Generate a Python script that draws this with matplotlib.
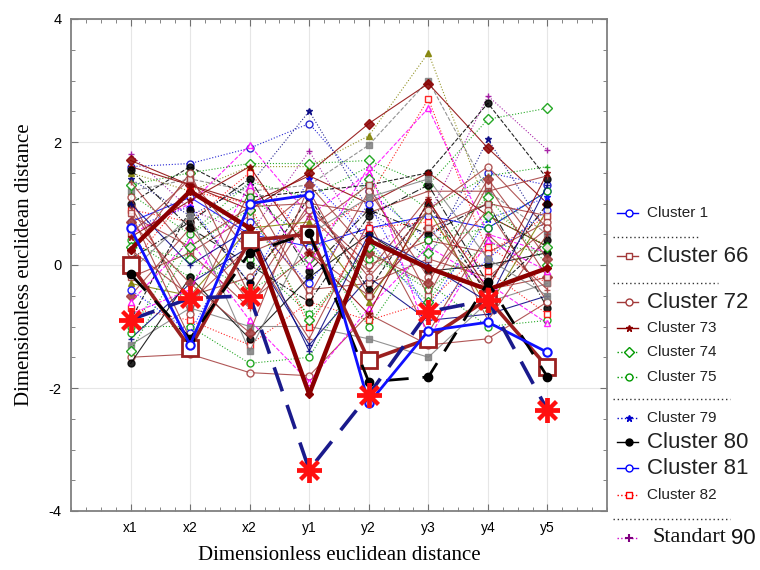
import matplotlib
matplotlib.use("Agg")
import matplotlib.pyplot as plt
from matplotlib.lines import Line2D
from matplotlib.ticker import MultipleLocator

plt.rcParams["axes.unicode_minus"] = False

categories = ["x1", "x2", "x2", "y1", "y2", "y3", "y4", "y5"]

# background cluster profiles
bg01 = [1.8, 0.9, 0.5, 1.85, 0.3, 0.8, 2.75, 1.87]
bg02 = [1.6, 1.65, 1.9, 2.3, 1.2, 0.4, 1.5, 1.3]
bg03 = [1.4, 0.8, 1.3, 2.5, 0.9, 0.1, 2.05, 0.5]
bg04 = [1.5, 1.2, 1.6, 1.6, 2.1, 3.45, 0.9, 0.3]
bg05 = [1.2, 1.4, 1.2, 1.3, 1.95, 3.0, 1.2, 0.5]
bg06 = [0.9, 0.7, 1.5, 0.4, 1.1, 2.7, 0.2, 0.8]
bg07 = [0.5, 1.0, 1.95, 0.8, 1.5, 2.55, 0.5, 0.2]
bg08 = [1.7, 1.3, 0.9, 1.5, 2.3, 2.95, 1.9, 1.0]
bg09 = [1.3, 1.5, 1.65, 1.65, 1.7, 1.3, 2.37, 2.55]
bg10 = [1.0, 1.6, 1.1, 1.2, 1.3, 1.5, 2.63, 1.4]
bg11 = [1.15, 0.5, 1.35, 1.1, 1.6, 0.9, 1.45, 1.6]
bg12 = [0.8, 0.3, 0.95, 1.0, 0.85, 1.2, 1.2, 1.45]
bg13 = [0.7, 1.1, 0.5, 0.3, 0.6, 0.8, 0.6, 1.2]
bg14 = [0.25, -0.5, -0.2, 0.9, 0.0, 0.4, 0.2, 0.7]
bg15 = [-0.2, 0.2, 0.8, -0.4, -0.3, 0.1, -0.2, 0.6]
bg16 = [0.4, -0.2, 0.1, -0.8, 0.2, -0.4, 0.35, 0.2]
bg17 = [-0.5, 0.6, -0.6, 0.2, -0.5, 0.6, -0.4, -0.2]
bg18 = [-0.7, -0.9, -1.3, -0.6, -0.9, -0.6, 0.3, -0.3]
bg19 = [-1.2, -0.3, 0.3, -1.3, -0.2, -0.9, -0.8, -0.5]
bg20 = [-1.0, -1.0, -1.6, -1.5, 0.1, -0.3, -1.0, -0.9]
bg21 = [-1.3, -0.7, -1.0, -1.0, -1.2, -1.5, -0.6, -0.3]
bg22 = [-1.5, -1.45, -1.75, -1.8, -0.8, -1.3, -1.2, -0.6]
bg23 = [-1.6, -0.2, -1.2, -0.2, 0.5, -0.1, 0.0, 0.2]
bg24 = [-0.6, 0.4, -0.9, -1.9, -0.7, 0.3, -0.3, -0.95]
bg25 = [0.1, 0.7, 1.4, -0.1, 0.9, 0.5, 1.0, -0.7]
bg26 = [1.6, 1.3, 1.0, 1.45, 1.0, 1.5, 0.8, 0.3]
bg27 = [0.6, 0.95, -0.3, 1.4, 0.4, -0.7, 0.75, 1.1]
bg28 = [-0.3, -0.5, 0.6, 0.7, -0.6, 0.9, -0.7, 0.9]
bg29 = [0.95, -0.6, 0.3, -1.2, 0.7, -1.1, 0.5, -0.4]
bg30 = [0.3, 0.1, -0.4, 0.1, 1.4, 0.2, 1.1, 0.0]
bg31 = [1.1, -0.8, 1.2, -0.5, 1.2, -0.2, 0.9, -0.6]
bg32 = [-0.9, 0.9, -0.3, 1.1, -0.4, 1.0, -0.5, 0.4]
bg33 = [0.5, 1.4, 0.2, 0.6, 1.3, -0.5, 1.3, -0.2]
bg34 = [-0.4, -1.1, 0.7, -0.3, 1.0, -0.8, 0.1, 0.9]
bg35 = [1.35, 0.2, -0.7, 0.8, -0.1, 1.1, -0.9, 0.5]
bg36 = [0.0, 1.2, 1.0, -1.0, 0.6, 0.7, -0.1, -0.8]
bg37 = [-1.1, 0.5, 1.1, 0.4, -1.0, 0.4, 0.6, 1.2]
bg38 = [0.7, -0.3, -1.1, 1.3, 0.2, -0.3, 1.4, 0.1]
bg39 = [1.55, 0.6, 0.0, -0.6, 0.8, 1.3, -0.3, 1.0]
bg40 = [-0.8, -0.4, 1.3, 0.0, 1.6, -1.2, 0.4, -0.1]
bg41 = [0.2, 1.5, -0.5, 1.0, -0.2, 0.9, 1.6, 0.6]
bg42 = [1.0, 0.0, 0.6, -1.4, 0.5, 0.0, -0.6, 1.3]
bg43 = [-0.1, 0.8, -1.4, 0.5, 1.1, 1.4, 0.1, -0.5]
bg44 = [0.85, -1.2, 0.4, 1.2, -0.5, 0.6, 1.0, 0.8]
bg45 = [-1.4, 0.3, 0.9, -0.9, 0.3, -0.6, 0.8, 0.3]
bg46 = [0.45, 1.05, 1.6, 0.2, -0.8, 1.05, -0.4, 1.5]

# highlighted profiles
cluster66 = [0.0, -1.35, 0.4, 0.5, -1.55, -1.2, -0.55, -1.66]
cluster72 = [0.25, 1.2, 0.6, -2.1, 0.4, -0.05, -0.4, -0.05]
cluster80 = [-0.15, -1.2, 0.2, 0.52, -1.9, -1.82, -0.28, -1.82]
cluster81 = [0.6, -1.3, 1.0, 1.14, -2.25, -1.07, -0.93, -1.42]
reference = [-0.89, -0.54, -0.5, -3.33, -2.11, -0.76, -0.57, -2.36]

background = [bg01, bg02, bg03, bg04, bg05, bg06, bg07, bg08, bg09, bg10,
              bg11, bg12, bg13, bg14, bg15, bg16, bg17, bg18, bg19, bg20,
              bg21, bg22, bg23, bg24, bg25, bg26, bg27, bg28, bg29, bg30,
              bg31, bg32, bg33, bg34, bg35, bg36, bg37, bg38, bg39, bg40,
              bg41, bg42, bg43, bg44, bg45, bg46]

BROWN = "#A33A3A"
DRED = "#8B0000"
bg_styles = [
    ("#990099", ":", "+", "full"), ("#0000CC", ":", "o", "none"), ("#000080", ":", "*", "full"),
    ("#808000", ":", "^", "full"), ("#808080", "--", "s", "full"), ("#FF0000", ":", "s", "none"),
    ("#FF00FF", "--", "^", "none"), (DRED, "-", "D", "full"), ("#009900", ":", "D", "none"),
    ("#000000", "--", "o", "full"), ("#009900", ":", "+", "full"), (BROWN, "-", "+", "full"),
    ("#0000FF", "-", "o", "none"), (BROWN, "-", "o", "none"), (BROWN, "-", "s", "none"),
    ("#009900", ":", "o", "none"), (BROWN, "-", "D", "full"), ("#FF0000", ":", "s", "none"),
    ("#000080", "-", "+", "full"), ("#009900", ":", "o", "none"), ("#808080", "-", "s", "full"),
    (BROWN, "-", "o", "none"), ("#000000", "-", "o", "full"), ("#FF00FF", "--", "^", "none"),
    ("#000000", "-.", "o", "full"), (DRED, "-", "*", "full"), ("#0000FF", ":", "*", "full"),
    ("#808000", "-", "^", "full"), (BROWN, "-", "+", "full"), ("#009900", ":", "D", "none"),
    (BROWN, "-", "o", "none"), ("#000000", "--", "o", "full"), (BROWN, "-", "s", "none"),
    ("#0000FF", ":", "o", "none"), (BROWN, "-", "+", "full"), ("#FF0000", ":", "s", "none"),
    ("#009900", ":", "o", "none"), (BROWN, "-", "D", "full"), ("#000000", "-.", "o", "full"),
    ("#FF00FF", "--", "^", "none"), (BROWN, "-", "o", "none"), ("#000080", "-", "+", "full"),
    ("#808080", "-", "s", "full"), (BROWN, "-", "s", "none"), ("#009900", ":", "D", "none"),
    (DRED, "-", "*", "full"),
]

fig = plt.figure(figsize=(7.6, 5.7), dpi=100)
ax = fig.add_axes([71 / 760, 1 - 511 / 570, 536 / 760, 492 / 570])

xs = list(range(len(categories)))

for vals, (c, ls, m, fill) in zip(background, bg_styles):
    ax.plot(xs, vals, color=c, linestyle=ls, linewidth=0.8, marker=m,
            markersize=5, markerfacecolor=(c if fill == "full" else "white"),
            markeredgecolor=c, markeredgewidth=1.0, alpha=0.85, zorder=2)

ax.plot(xs, cluster72, color=DRED, linewidth=3.2, marker="D", markersize=4,
        markerfacecolor=DRED, zorder=4)
ax.plot(xs, cluster66, color="#9B2020", linewidth=2.6, marker="s", markersize=11,
        markerfacecolor="white", markeredgecolor="#9B2020", markeredgewidth=2, zorder=5)
ax.plot(xs, cluster80, color="#000000", linewidth=2.0, dashes=(8, 5), marker="o",
        markersize=6, markerfacecolor="#000000", zorder=5)
ax.plot(xs, cluster81, color="#1010FF", linewidth=2.0, marker="o", markersize=6,
        markerfacecolor="white", markeredgecolor="#1010FF", markeredgewidth=1.5, zorder=6)
ax.plot(xs, reference, color="#1A1A8C", linewidth=2.6, dashes=(7, 4),
        marker=(8, 2, 0), markersize=18, markeredgecolor="#FF1010",
        markeredgewidth=2.8, zorder=7)

ax.set_xlim(-1, 8)
ax.set_ylim(-4, 4)
ax.set_xticks(xs)
ax.set_xticklabels(categories, fontsize=10, family="Liberation Sans")
ax.yaxis.set_major_locator(MultipleLocator(2))
ax.yaxis.set_minor_locator(MultipleLocator(0.5))
ax.xaxis.set_minor_locator(MultipleLocator(0.25))
for lab in ax.get_yticklabels():
    lab.set_family("Liberation Sans")
    lab.set_fontsize(10.5)
ax.tick_params(which="both", direction="in", top=True, right=True, color="#707070")
ax.tick_params(which="major", length=5, pad=7)
ax.tick_params(which="minor", length=3)
ax.grid(True, which="major", color="#E6E6E6", linewidth=0.8, zorder=0)
ax.set_axisbelow(True)
for sp in ax.spines.values():
    sp.set_color("#808080")
    sp.set_linewidth(1.3)

ax.set_xlabel("Dimensionless euclidean distance", family="Liberation Serif",
              fontsize=15, labelpad=8)
ax.set_ylabel("Dimensionless euclidean distance", family="Liberation Serif",
              fontsize=15, labelpad=10)

# custom legend on the right
W, H = 760.0, 570.0
def fx(p):
    return p / W
def fy(p):
    return 1 - p / H

legend_entries = [
    ("Cluster 1", 213, "#0000FF", "-", "o", "none", 11),
    ("Cluster 66", 256, BROWN, "-", "s", "none", 16),
    ("Cluster 72", 302, BROWN, "-", "o", "none", 16),
    ("Cluster 73", 328, DRED, "-", "*", "full", 11),
    ("Cluster 74", 352, "#009900", ":", "D", "none", 11),
    ("Cluster 75", 377, "#009900", ":", "o", "none", 11),
    ("Cluster 79", 418, "#0000CC", ":", "*", "full", 11),
    ("Cluster 80", 442, "#000000", "-", "o", "full", 16),
    ("Cluster 81", 468, "#0000FF", "-", "o", "none", 16),
    ("Cluster 82", 495, "#FF0000", ":", "s", "none", 11),
]
for text, yp, c, ls, m, fill, fs in legend_entries:
    fig.add_artist(Line2D([fx(617), fx(638)], [fy(yp), fy(yp)], color=c, linestyle=ls,
                          linewidth=1.0, transform=fig.transFigure))
    fig.add_artist(Line2D([fx(629)], [fy(yp)], marker=m, markersize=5, color=c,
                          markerfacecolor=(c if fill == "full" else "white"),
                          markeredgecolor=c, transform=fig.transFigure))
    fig.text(fx(647), fy(yp), text, fontsize=fs, family="Liberation Sans",
             va="center", ha="left", color="#222222")

# Standart 90
yp = 538
fig.add_artist(Line2D([fx(617), fx(638)], [fy(yp), fy(yp)], color="#CC00CC", linestyle=":",
                      linewidth=1.0, transform=fig.transFigure))
fig.add_artist(Line2D([fx(629)], [fy(yp)], marker="+", markersize=6, color="#800080",
                      markeredgewidth=1.5, transform=fig.transFigure))
t1 = fig.text(fx(652), fy(yp), "Standart", fontsize=16, family="Liberation Serif",
              va="center", ha="left", color="#111111")
renderer = fig.canvas.get_renderer()
bb = t1.get_window_extent(renderer=renderer)
fig.text(fx(bb.x1 + 5), fy(yp), "90", fontsize=16, family="Liberation Sans",
         va="center", ha="left", color="#111111")

# dotted separators
for yp, x2 in [(237, 700), (283, 718), (399, 730), (519, 730)]:
    fig.add_artist(Line2D([fx(613), fx(x2)], [fy(yp), fy(yp)], color="#333333",
                          linestyle=(0, (1, 2)), linewidth=1.0, transform=fig.transFigure))

fig.savefig("out.png", dpi=100)
